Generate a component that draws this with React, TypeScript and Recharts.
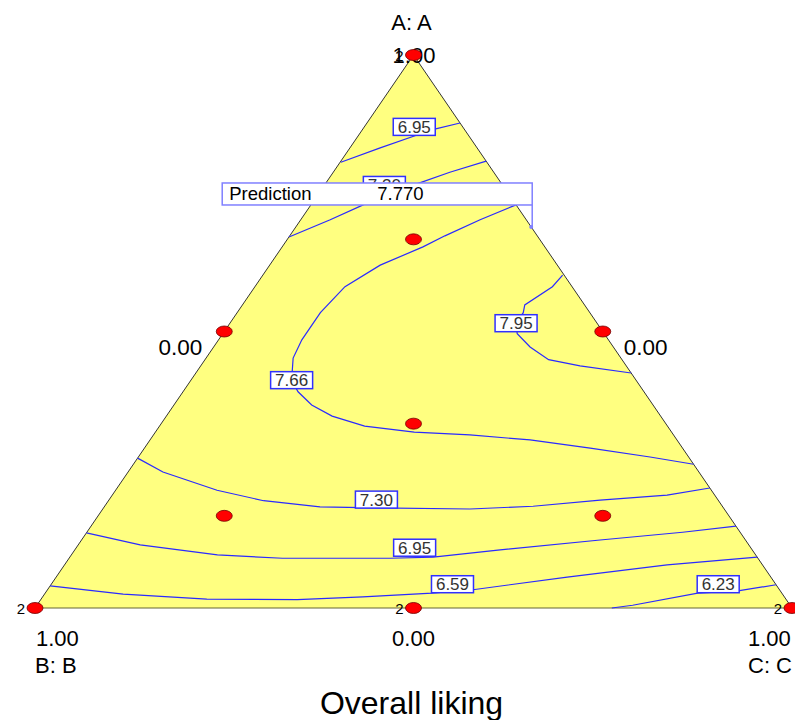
import React from "react";
import { ComposedChart, XAxis, YAxis, Area, Line, Scatter } from "recharts";

// ---------- data (mixture fractions: [A, C]; B = 1 - A - C) ----------
type AC = [number, number];

const responseTitle = "Overall liking";
const vertexNames = ["A: A", "B: B", "C: C"];
const vertexTicks = ["1.00", "1.00", "1.00"];
const edgeTicks = ["0.00", "0.00", "0.00"]; // AB side, AC side, BC side
const replicateLabel = "2";

const contour695Top: AC[] = [[0.806, 0.001], [0.832, 0.040], [0.854, 0.075], [0.866, 0.095], [0.877, 0.123]];
const contour730Top: AC[] = [[0.671, 0.000], [0.702, 0.039], [0.729, 0.069], [0.752, 0.096], [0.770, 0.126], [0.788, 0.154], [0.808, 0.192]];
const contour766: AC[] = [
  [0.729, 0.271], [0.702, 0.237], [0.673, 0.205], [0.653, 0.186], [0.620, 0.146], [0.581, 0.119],
  [0.534, 0.110], [0.485, 0.110], [0.452, 0.115], [0.412, 0.133], [0.391, 0.152], [0.367, 0.182],
  [0.347, 0.219], [0.329, 0.271], [0.318, 0.342], [0.313, 0.418], [0.304, 0.502], [0.289, 0.589],
  [0.273, 0.676], [0.260, 0.740],
];
const contour795: AC[] = [
  [0.602, 0.396], [0.581, 0.393], [0.548, 0.373], [0.534, 0.378], [0.515, 0.378], [0.496, 0.389],
  [0.472, 0.418], [0.449, 0.454], [0.438, 0.501], [0.425, 0.575],
];
const contour730Low: AC[] = [
  [0.271, 0.000], [0.246, 0.046], [0.213, 0.134], [0.194, 0.205], [0.183, 0.285], [0.181, 0.360],
  [0.179, 0.485], [0.184, 0.566], [0.195, 0.649], [0.204, 0.733], [0.217, 0.783],
];
const contour695Low: AC[] = [
  [0.136, 0.000], [0.114, 0.082], [0.096, 0.193], [0.090, 0.282], [0.090, 0.424], [0.092, 0.480],
  [0.105, 0.562], [0.123, 0.685], [0.137, 0.787], [0.148, 0.852],
];
const contour659: AC[] = [
  [0.040, 0.000], [0.025, 0.104], [0.016, 0.219], [0.015, 0.339], [0.020, 0.423], [0.027, 0.511],
  [0.033, 0.562], [0.056, 0.675], [0.078, 0.796], [0.092, 0.908],
];
const contour623: AC[] = [[0.000, 0.762], [0.005, 0.787], [0.027, 0.862], [0.031, 0.913], [0.042, 0.958]];

const contours: AC[][] = [contour695Top, contour730Top, contour766, contour795, contour730Low, contour695Low, contour659, contour623];

const contourLabelText = ["6.95", "7.30", "7.66", "7.95", "7.30", "6.95", "6.59", "6.23"];
const contourLabelPos: AC[] = [
  [0.870, 0.066], [0.765, 0.079], [0.412, 0.133], [0.515, 0.378],
  [0.196, 0.353], [0.109, 0.447], [0.043, 0.530], [0.043, 0.881],
];

const designA = [1, 0, 0, 0.5, 0.5, 0, 1 / 3, 2 / 3, 1 / 6, 1 / 6];
const designC = [0, 0, 1, 0, 0.5, 0.5, 1 / 3, 1 / 6, 1 / 6, 2 / 3];
const replicatedA = [1, 0, 0, 0];
const replicatedC = [0, 0, 1, 0.5];

const predictionLabel = "Prediction";
const predictionValue = "7.770";
const predictionPoint: AC = [0.689, 0.311];

// ---------- helpers ----------
const toXY = (a: number, c: number) => ({ x: c + a / 2, y: a });
const FONT = "'Liberation Sans', Arial, sans-serif";
const X_DOMAIN: [number, number] = [-35 / 757, 760 / 757];
const Y_DOMAIN: [number, number] = [-112 / 553, 608 / 553];

const triangle = [toXY(0, 0), toXY(1, 0), toXY(0, 1)];
const baseEdge = [toXY(0, 0), toXY(0, 1)];
const designPts = designA.map((a, i) => toXY(a, designC[i]));
const replicatePts = replicatedA.map((a, i) => toXY(a, replicatedC[i]));
const labelPts = contourLabelPos.map(([a, c], i) => ({ ...toXY(a, c), label: contourLabelText[i] }));

const textShape =
  (text: string, dx: number, dy: number, size: number, anchor: "start" | "middle" | "end") =>
  (p: any) => (
    <text x={p.cx + dx} y={p.cy + dy} fontSize={size} textAnchor={anchor} fontFamily={FONT} fill="#000">
      {text}
    </text>
  );

const dotShape = (p: any) => (
  <ellipse cx={p.cx} cy={p.cy} rx={8} ry={5.5} fill="#ff0000" stroke="#700000" strokeWidth={0.8} />
);

const contourLabelShape = (p: any) => (
  <g>
    <rect x={p.cx - 21} y={p.cy - 8.5} width={42} height={17} fill="#fff" stroke="#3030ff" strokeWidth={1.5} />
    <text x={p.cx} y={p.cy + 6} fontSize={17} textAnchor="middle" fontFamily={FONT} fill="#333">
      {p.payload.label}
    </text>
  </g>
);

const predictionShape = (p: any) => (
  <g>
    <line x1={p.cx + 1} y1={p.cy - 22} x2={p.cx + 1} y2={p.cy} stroke="#8080ff" strokeWidth={1.5} />
    <circle cx={p.cx} cy={p.cy} r={2} fill="#8080ff" />
    <rect x={p.cx - 309} y={p.cy - 44} width={310} height={22} fill="#fff" stroke="#8080ff" strokeWidth={1.5} />
    <text x={p.cx - 302} y={p.cy - 26.5} fontSize={18.5} fontFamily={FONT} fill="#000">
      {predictionLabel}
    </text>
    <text x={p.cx - 154} y={p.cy - 26.5} fontSize={18.5} fontFamily={FONT} fill="#000">
      {predictionValue}
    </text>
  </g>
);

export default function App() {
  const A = toXY(1, 0);
  const B = toXY(0, 0);
  const C = toXY(0, 1);
  const AB = toXY(0.5, 0);
  const AC_ = toXY(0.5, 0.5);
  const BC = toXY(0, 0.5);
  return (
    <div style={{ position: "absolute", left: 0, top: 0, width: 795, height: 720, background: "#fff" }}>
      <ComposedChart width={795} height={720} margin={{ top: 0, right: 0, bottom: 0, left: 0 }}>
        <XAxis type="number" dataKey="x" domain={X_DOMAIN} allowDataOverflow hide />
        <YAxis type="number" dataKey="y" domain={Y_DOMAIN} allowDataOverflow hide />
        <Area
          data={triangle}
          dataKey="y"
          type="linear"
          baseValue={0}
          fill="#ffff80"
          fillOpacity={1}
          stroke="#333"
          strokeWidth={1}
          dot={false}
          activeDot={false}
          isAnimationActive={false}
        />
        <Line data={baseEdge} dataKey="y" type="linear" stroke="#666633" strokeWidth={1.2} dot={false} activeDot={false} isAnimationActive={false} />
        {contours.map((cs, i) => (
          <Line
            key={"c" + i}
            data={cs.map(([a, c]) => toXY(a, c))}
            dataKey="y"
            type="linear"
            stroke="#2a2aff"
            strokeWidth={1.2}
            dot={false}
            activeDot={false}
            isAnimationActive={false}
          />
        ))}
        <Scatter data={[A]} dataKey="y" shape={textShape(vertexNames[0], -2, -25, 22, "middle")} isAnimationActive={false} />
        <Scatter data={[A]} dataKey="y" shape={textShape(vertexTicks[0], 0.5, 8, 22, "middle")} isAnimationActive={false} />
        <Scatter data={[B]} dataKey="y" shape={textShape(vertexTicks[1], 1, 38, 22, "start")} isAnimationActive={false} />
        <Scatter data={[B]} dataKey="y" shape={textShape(vertexNames[1], 0, 65, 22, "start")} isAnimationActive={false} />
        <Scatter data={[C]} dataKey="y" shape={textShape(vertexTicks[2], -44, 38, 22, "start")} isAnimationActive={false} />
        <Scatter data={[C]} dataKey="y" shape={textShape(vertexNames[2], -44, 65, 22, "start")} isAnimationActive={false} />
        <Scatter data={[AB]} dataKey="y" shape={textShape(edgeTicks[0], -22, 23.5, 22.5, "end")} isAnimationActive={false} />
        <Scatter data={[AC_]} dataKey="y" shape={textShape(edgeTicks[1], 21, 23.5, 22.5, "start")} isAnimationActive={false} />
        <Scatter data={[BC]} dataKey="y" shape={textShape(edgeTicks[2], 0, 38, 22, "middle")} isAnimationActive={false} />
        <Scatter data={[BC]} dataKey="y" shape={textShape(responseTitle, -2, 106, 32, "middle")} isAnimationActive={false} />
        <Scatter data={replicatePts} dataKey="y" shape={textShape(replicateLabel, -10, 6, 15, "end")} isAnimationActive={false} />
        <Scatter data={designPts} dataKey="y" shape={dotShape} isAnimationActive={false} />
        <Scatter data={labelPts} dataKey="y" shape={contourLabelShape} isAnimationActive={false} />
        <Scatter data={[toXY(predictionPoint[0], predictionPoint[1])]} dataKey="y" shape={predictionShape} isAnimationActive={false} />
      </ComposedChart>
    </div>
  );
}
